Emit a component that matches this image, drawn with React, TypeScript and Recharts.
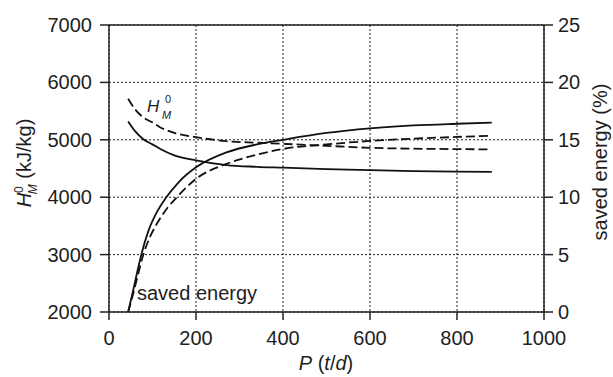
import {
  CartesianGrid,
  Customized,
  Line,
  LineChart,
  ReferenceLine,
  XAxis,
  YAxis,
} from "recharts";

// specific energy H_M^0 (left axis), kJ/kg
const hSolidP = [44, 60, 79, 100, 117, 150, 200, 270, 340, 400, 500, 600, 700, 800, 880];
const hSolid = [5320, 5150, 5010, 4920, 4845, 4730, 4643, 4560, 4530, 4515, 4490, 4470, 4455, 4445, 4440];

const hDashedP = [44, 60, 79, 100, 117, 150, 200, 270, 340, 400, 500, 600, 700, 800, 872];
const hDashed = [5715, 5530, 5390, 5300, 5220, 5120, 5045, 4976, 4950, 4930, 4895, 4860, 4845, 4838, 4833];

// saved energy (right axis), %
const sSolidP = [44, 55, 65, 75, 90, 110, 130, 160, 200, 270, 340, 400, 500, 600, 700, 800, 880];
const sSolid = [0, 1.8, 3.5, 5.1, 7.0, 8.7, 9.9, 11.3, 12.6, 13.9, 14.6, 15.0, 15.6, 16.0, 16.25, 16.4, 16.5];

const sDashedP = [44, 55, 65, 79, 95, 115, 135, 156, 200, 270, 340, 400, 500, 600, 700, 800, 875];
const sDashed = [0, 1.5, 3.0, 5.0, 6.6, 8.0, 9.1, 10.0, 11.6, 12.9, 13.7, 14.2, 14.6, 14.9, 15.1, 15.25, 15.35];

const xTicks = [0, 200, 400, 600, 800, 1000];
const leftTicks = [2000, 3000, 4000, 5000, 6000, 7000];
const rightTicks = [0, 5, 10, 15, 20, 25];

const toRows = (ps: number[], vs: number[]) => ps.map((p, i) => ({ p, v: vs[i] }));

const FONT = "'Liberation Sans', Arial, Helvetica, sans-serif";
const FS = 20;
const INK = "#1e1e1e";

const XTick = (props: any) => (
  <text x={props.x} y={props.y + 23} textAnchor="middle" fontSize={FS} fontFamily={FONT} fill={INK}>
    {props.payload.value}
  </text>
);
const LeftTick = (props: any) => (
  <text x={props.x} y={props.y + 7} textAnchor="end" fontSize={FS} fontFamily={FONT} fill={INK}>
    {props.payload.value}
  </text>
);
const RightTick = (props: any) => (
  <text x={props.x} y={props.y + 7} textAnchor="start" fontSize={FS} fontFamily={FONT} fill={INK}>
    {props.payload.value}
  </text>
);

const Labels = () => (
  <g fontFamily={FONT} fill={INK}>
    {/* left axis title */}
    <text x={31} y={163} fontSize={FS} textAnchor="middle" transform="rotate(-90, 31, 163)">
      <tspan fontStyle="italic">H</tspan>
      <tspan fontSize={12} dy={-8}>0</tspan>
      <tspan fontSize={12} fontStyle="italic" dx={-8} dy={14}>M</tspan>
      <tspan dy={-6}> (kJ/kg)</tspan>
    </text>
    {/* right axis title */}
    <text x={607} y={162} fontSize={FS} textAnchor="middle" transform="rotate(-90, 607, 162)">
      saved energy (%)
    </text>
    {/* x axis title */}
    <text x={326} y={370} fontSize={FS} textAnchor="middle">
      <tspan fontStyle="italic">P</tspan> (<tspan fontStyle="italic">t</tspan>/<tspan fontStyle="italic">d</tspan>)
    </text>
    {/* curve annotations */}
    <text x={147} y={112} fontSize={17} fontStyle="italic">H</text>
    <text x={165} y={103} fontSize={11}>0</text>
    <text x={162} y={119} fontSize={11} fontStyle="italic">M</text>
    <text x={137} y={300} fontSize={FS}>saved energy</text>
  </g>
);

export default function App() {
  return (
    <div style={{ background: "#fff", width: 613, height: 377 }}>
      <style>{`html, body { margin: 0; padding: 0; background: #fff; }`}</style>
      <LineChart width={613} height={377} margin={{ top: 25, right: 0, bottom: 0, left: 0 }}>
        <CartesianGrid
          xAxisId="x"
          yAxisId="left"
          stroke="#222"
          strokeDasharray="2 2"
          strokeWidth={1}
        />
        <XAxis
          xAxisId="x"
          type="number"
          dataKey="p"
          domain={[0, 1000]}
          ticks={xTicks}
          height={65}
          tickSize={8}
          tickMargin={2}
          stroke="#222"
          strokeWidth={1.5}
          tick={<XTick />}
          allowDataOverflow
        />
        <YAxis
          yAxisId="left"
          orientation="left"
          domain={[2000, 7000]}
          ticks={leftTicks}
          width={109}
          tickSize={9}
          tickMargin={8}
          stroke="#222"
          strokeWidth={1.5}
          tick={<LeftTick />}
        />
        <YAxis
          yAxisId="right"
          orientation="right"
          domain={[0, 25]}
          ticks={rightTicks}
          width={69}
          tickSize={9}
          tickMargin={5}
          stroke="#222"
          strokeWidth={1.5}
          tick={<RightTick />}
        />
        <ReferenceLine xAxisId="x" yAxisId="left" y={7000} stroke="#222" strokeWidth={1.5} />
        <Line
          xAxisId="x"
          yAxisId="left"
          data={toRows(hSolidP, hSolid)}
          dataKey="v"
          type="monotone"
          stroke="#111"
          strokeWidth={1.8}
          dot={false}
          isAnimationActive={false}
        />
        <Line
          xAxisId="x"
          yAxisId="left"
          data={toRows(hDashedP, hDashed)}
          dataKey="v"
          type="monotone"
          stroke="#111"
          strokeWidth={1.8}
          strokeDasharray="9 4"
          dot={false}
          isAnimationActive={false}
        />
        <Line
          xAxisId="x"
          yAxisId="right"
          data={toRows(sSolidP, sSolid)}
          dataKey="v"
          type="monotone"
          stroke="#111"
          strokeWidth={1.8}
          dot={false}
          isAnimationActive={false}
        />
        <Line
          xAxisId="x"
          yAxisId="right"
          data={toRows(sDashedP, sDashed)}
          dataKey="v"
          type="monotone"
          stroke="#111"
          strokeWidth={1.8}
          strokeDasharray="9 4"
          dot={false}
          isAnimationActive={false}
        />
        <Customized component={Labels} />
      </LineChart>
    </div>
  );
}
